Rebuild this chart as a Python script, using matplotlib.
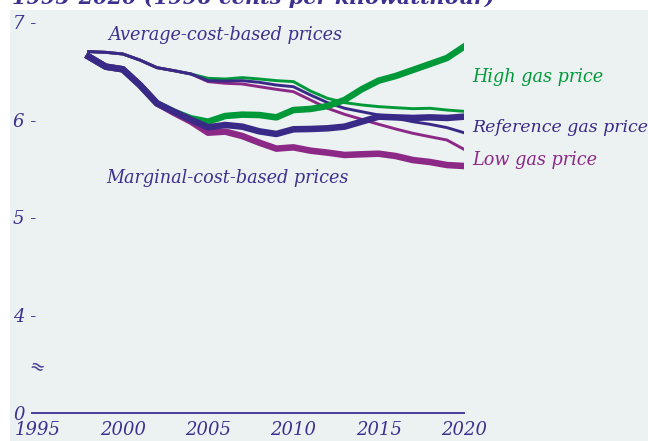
import matplotlib
matplotlib.use("Agg")
import matplotlib.pyplot as plt
from matplotlib.patches import Rectangle
from matplotlib.transforms import blended_transform_factory

# ---------------- data ----------------
years = list(range(1998, 2021))

avg_high = [6.717, 6.710, 6.693, 6.631, 6.553, 6.522, 6.488, 6.444, 6.437, 6.451, 6.437,
            6.420, 6.410, 6.314, 6.239, 6.195, 6.171, 6.154, 6.143, 6.133, 6.137, 6.119, 6.106]
avg_ref = [6.717, 6.710, 6.693, 6.631, 6.553, 6.522, 6.488, 6.420, 6.416, 6.420, 6.403,
           6.375, 6.358, 6.273, 6.195, 6.137, 6.102, 6.068, 6.034, 6.000, 5.973, 5.939, 5.887]
avg_low = [6.717, 6.710, 6.693, 6.631, 6.553, 6.522, 6.488, 6.410, 6.393, 6.386, 6.358,
           6.331, 6.307, 6.222, 6.137, 6.075, 6.024, 5.973, 5.925, 5.881, 5.846, 5.812, 5.717]

mar_high = [6.666, 6.563, 6.536, 6.375, 6.188, 6.102, 6.034, 6.000, 6.058, 6.072, 6.068,
            6.044, 6.119, 6.130, 6.160, 6.222, 6.331, 6.420, 6.468, 6.529, 6.590, 6.652, 6.768]
mar_ref = [6.666, 6.563, 6.536, 6.375, 6.188, 6.102, 6.020, 5.942, 5.966, 5.949, 5.901,
           5.874, 5.922, 5.925, 5.932, 5.949, 6.000, 6.051, 6.044, 6.038, 6.044, 6.038, 6.051]
mar_low = [6.666, 6.563, 6.536, 6.375, 6.188, 6.090, 6.000, 5.887, 5.898, 5.853, 5.785,
           5.724, 5.737, 5.703, 5.683, 5.659, 5.666, 5.672, 5.648, 5.607, 5.587, 5.556, 5.546]

x_ticks = [1995, 2000, 2005, 2010, 2015, 2020]
x_tick_labels = ["1995", "2000", "2005", "2010", "2015", "2020"]
y_break = 3.017
y_ticks = [4, 5, 6, 7]
y_tick_labels = ["4 -", "5 -", "6 -", "7 -"]
zero_label = "0"

title = "1995-2020 (1996 cents per kilowatthour)"
series_labels = ["High gas price", "Reference gas price", "Low gas price"]
group_labels = ["Average-cost-based prices", "Marginal-cost-based prices"]

# ---------------- style ----------------
W, H = 648, 441
GREEN = "#00993a"
NAVY = "#3a2a88"
MAGENTA = "#8c2886"
TXT = "#3d3190"
BG = "#ecf1f1"
FONT = "DejaVu Serif"

fig = plt.figure(figsize=(W / 100, H / 100), dpi=100)
fig.patch.set_facecolor("white")
bgrect = Rectangle((10 / W, 0), 1, (H - 10) / H, transform=fig.transFigure,
                   facecolor=BG, edgecolor="none", zorder=-5)
fig.add_artist(bgrect)

def fx(px):
    return px / W

def fy(py):
    return 1 - py / H

left, right, top, bottom = 32, 464, 24, 413
ax = fig.add_axes([fx(left), fy(bottom), (right - left) / W, (bottom - top) / H])
ax.set_zorder(2)
ax.set_facecolor("none")
ax.set_xlim(1995 - 5.5 / 17.06, 2020)
ax.set_ylim(y_break, 7)
for s in ["top", "right", "left"]:
    ax.spines[s].set_visible(False)
ax.spines["bottom"].set_color("#4a3d9a")
ax.spines["bottom"].set_linewidth(1.4)
ax.set_yticks([])
ax.set_xticks(x_ticks)
ax.set_xticklabels(x_tick_labels, fontfamily=FONT, fontstyle="italic", fontsize=13, color=TXT)
ax.tick_params(axis="x", length=0, pad=6)

# y tick labels (manual, with dash)
tr = blended_transform_factory(fig.transFigure, ax.transData)
for v, lab in zip(y_ticks, y_tick_labels):
    ax.text(fx(13), v, lab, transform=tr, ha="left", va="center", fontfamily=FONT,
            fontstyle="italic", fontsize=13, color=TXT, clip_on=False)
fig.text(fx(13), fy(415), zero_label, ha="left", va="center", fontfamily=FONT,
         fontstyle="italic", fontsize=13, color=TXT)
fig.text(fx(36), fy(368), "\u2248", ha="center", va="center", fontsize=13, color=TXT,
         fontfamily="DejaVu Sans", rotation=-20, zorder=3)

# thin (average cost) lines
ax.plot(years, avg_high, color=GREEN, lw=2.1, zorder=3, solid_joinstyle="round")
ax.plot(years, avg_low, color=MAGENTA, lw=2.1, zorder=3, solid_joinstyle="round")
ax.plot(years, avg_ref, color=NAVY, lw=2.1, zorder=4, solid_joinstyle="round")
# thick (marginal cost) lines
ax.plot(years, mar_high, color=GREEN, lw=4.7, zorder=5, solid_joinstyle="round")
ax.plot(years, mar_low, color=MAGENTA, lw=4.7, zorder=5, solid_joinstyle="round")
ax.plot(years, mar_ref, color=NAVY, lw=4.7, zorder=6, solid_joinstyle="round")

# labels
fs = 12.7
fig.text(fx(108), fy(35), group_labels[0], ha="left", va="center", fontfamily=FONT,
         fontstyle="italic", fontsize=fs, color=TXT)
fig.text(fx(106), fy(178), group_labels[1], ha="left", va="center", fontfamily=FONT,
         fontstyle="italic", fontsize=fs, color=TXT)
fig.text(fx(472), fy(77), series_labels[0], ha="left", va="center", fontfamily=FONT,
         fontstyle="italic", fontsize=fs, color=GREEN)
fig.text(fx(472), fy(127), series_labels[1], ha="left", va="center", fontfamily=FONT,
         fontstyle="italic", fontsize=12.5, color=NAVY)
fig.text(fx(472), fy(160), series_labels[2], ha="left", va="center", fontfamily=FONT,
         fontstyle="italic", fontsize=fs, color=MAGENTA)

# cut-off title at the very top
fig.text(fx(12), fy(4), title, ha="left", va="baseline", fontfamily=FONT,
         fontstyle="italic", fontweight="bold", fontsize=15, color=TXT)

fig.savefig("out.png", dpi=100, facecolor="white")
